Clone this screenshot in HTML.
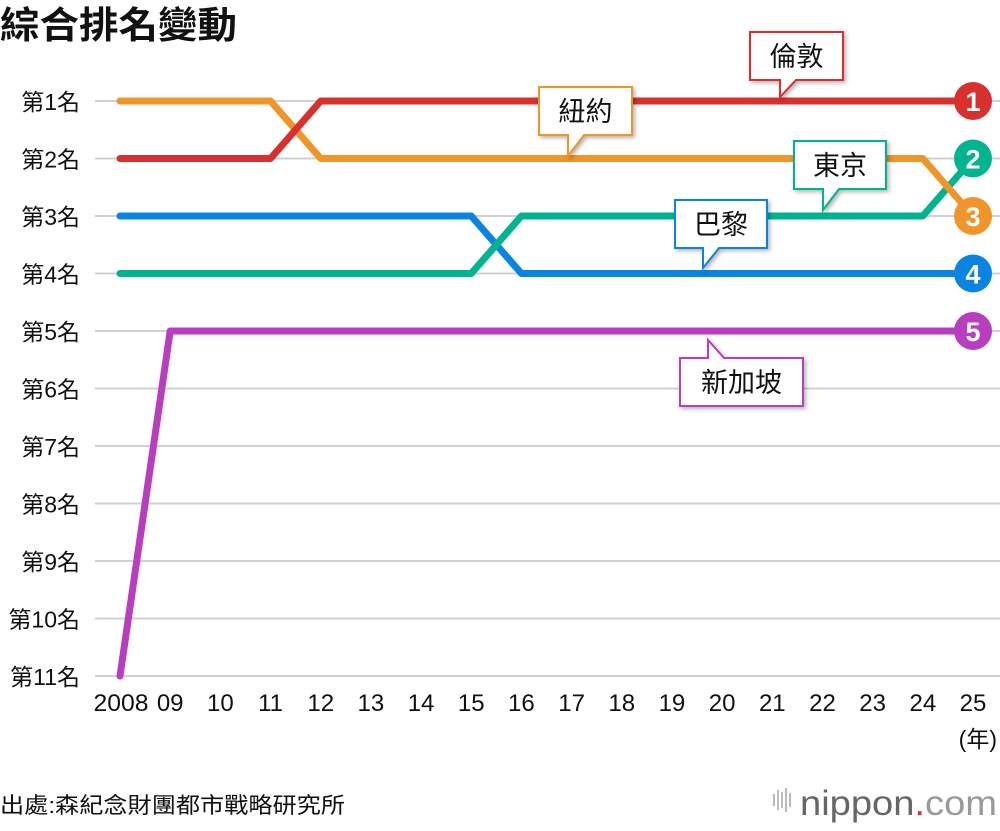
<!DOCTYPE html>
<html><head><meta charset="utf-8"><style>
body{margin:0;background:#fff;width:1000px;height:826px;overflow:hidden;font-family:"Liberation Sans","Noto Sans CJK TC",sans-serif}
svg text{font-family:"Liberation Sans","Noto Sans CJK TC",sans-serif}
</style></head><body>
<svg id="c" width="1000" height="826">
<text x="0" y="38" font-size="37" font-weight="bold" fill="#111" textLength="237" lengthAdjust="spacingAndGlyphs">綜合排名變動</text>
<g id="grid"></g><g id="ylab"></g><g id="xlab"></g><g id="lines"></g><g id="ends"></g><g id="callouts"></g>
<text x="997" y="747" font-size="23" text-anchor="end" fill="#111">(年)</text>
<text x="0" y="813" font-size="22" fill="#111" textLength="345" lengthAdjust="spacingAndGlyphs">出處:森紀念財團都市戰略研究所</text>
<g>
<g fill="#bbb"><rect x="773" y="794" width="2" height="12"/><rect x="777" y="790" width="2" height="20"/><rect x="781" y="792" width="2" height="16"/><rect x="785" y="788" width="2" height="24"/><rect x="789" y="793" width="2" height="14"/></g>
<text x="800" y="815" font-size="35" fill="#666" textLength="197" lengthAdjust="spacingAndGlyphs">nippon<tspan fill="#e0262b">.</tspan><tspan fill="#999">com</tspan></text></g>
</svg>
<script>
const years=["2008","09","10","11","12","13","14","15","16","17","18","19","20","21","22","23","24","25"];
const rankLabels=["第1名","第2名","第3名","第4名","第5名","第6名","第7名","第8名","第9名","第10名","第11名"];
const london=[2,2,2,2,1,1,1,1,1,1,1,1,1,1,1,1,1,1];
const newyork=[1,1,1,1,2,2,2,2,2,2,2,2,2,2,2,2,2,3];
const tokyo=[4,4,4,4,4,4,4,4,3,3,3,3,3,3,3,3,3,2];
const paris=[3,3,3,3,3,3,3,3,4,4,4,4,4,4,4,4,4,4];
const singapore=[11,5,5,5,5,5,5,5,5,5,5,5,5,5,5,5,5,5];
const NS="http://www.w3.org/2000/svg";
const X=i=>120+i*(973-120)/(years.length-1);
const Y=r=>101+(r-1)*(676-101)/10;
function mk(tag,attrs,parent){const e=document.createElementNS(NS,tag);for(const k in attrs)e.setAttribute(k,attrs[k]);parent.appendChild(e);return e;}
const g=id=>document.getElementById(id);
rankLabels.forEach((t,i)=>{
 const l=mk('line',{x1:95,x2:1000,y1:Y(i+1),y2:Y(i+1),stroke:'#d0d0d0','stroke-width':2},g('grid'));
 
 
 const tx=mk('text',{x:80,y:Y(i+1)+9,'font-size':23,'text-anchor':'end',fill:'#111'},g('ylab'));
 tx.textContent=t;
 
 
});
years.forEach((t,i)=>{
 const tx=mk('text',{x:X(i)+(i==0?1:0),y:711,'font-size':24,'text-anchor':'middle',fill:'#111'},g('xlab'));
 if(i==0){tx.setAttribute('textLength',55);tx.setAttribute('lengthAdjust','spacingAndGlyphs');}
 tx.textContent=t;
 
 
});
const series=[
 {n:'singapore',d:singapore,c:'#b83ec0'},
 {n:'paris',d:paris,c:'#0a84e0'},
 {n:'tokyo',d:tokyo,c:'#00b48f'},
 {n:'newyork',d:newyork,c:'#f0952a'},
 {n:'london',d:london,c:'#d7302f'}];
series.forEach(s=>{
 const p=mk('polyline',{points:s.d.map((v,i)=>X(i)+','+Y(v)).join(' '),fill:'none',stroke:s.c,'stroke-width':7,'stroke-linejoin':'round','stroke-linecap':'round'},g('lines'));
 
 
});
series.forEach(s=>{
 const last=s.d[s.d.length-1];
 const cc=mk('circle',{cx:973,cy:Y(last),r:19,fill:s.c},g('ends'));
 
 
 const t=mk('text',{x:973,y:Y(last)+10,'font-size':27,'font-weight':'bold','text-anchor':'middle',fill:'#fff'},g('ends'));
 t.textContent=last;
 
 
});
const callouts=[
 {n:'london',t:'倫敦',c:'#d7302f',x:750,y:32,w:93,h:48,px:780,py:97,up:false},
 {n:'newyork',t:'紐約',c:'#f0952a',x:539,y:87,w:93,h:48,px:568,py:156,up:false},
 {n:'tokyo',t:'東京',c:'#00b48f',x:794,y:141,w:92,h:48,px:823,py:210,up:false},
 {n:'paris',t:'巴黎',c:'#0a84e0',x:675,y:200,w:92,h:48,px:703,py:268,up:false},
 {n:'singapore',t:'新加坡',c:'#b83ec0',x:680,y:358,w:123,h:48,px:708,py:340,up:true}];
callouts.forEach(o=>{
 let d;
 if(!o.up){const b=o.y+o.h;d=`M${o.x},${o.y}H${o.x+o.w}V${b}H${o.px+16}L${o.px},${o.py}V${b}H${o.x}Z`;}
 else{d=`M${o.x},${o.y}H${o.px}V${o.py}L${o.px+16},${o.y}H${o.x+o.w}V${o.y+o.h}H${o.x}Z`;}
 const p=mk('path',{d:d,fill:'#fff',stroke:o.c,'stroke-width':2,style:'filter:drop-shadow(2px 2px 2px rgba(0,0,0,.3))'},g('callouts'));
 
 
 const t=mk('text',{x:o.x+o.w/2,y:o.y+34,'font-size':27,'text-anchor':'middle',fill:'#111'},g('callouts'));
 t.textContent=o.t;
 
 
});
</script>
</body></html>
